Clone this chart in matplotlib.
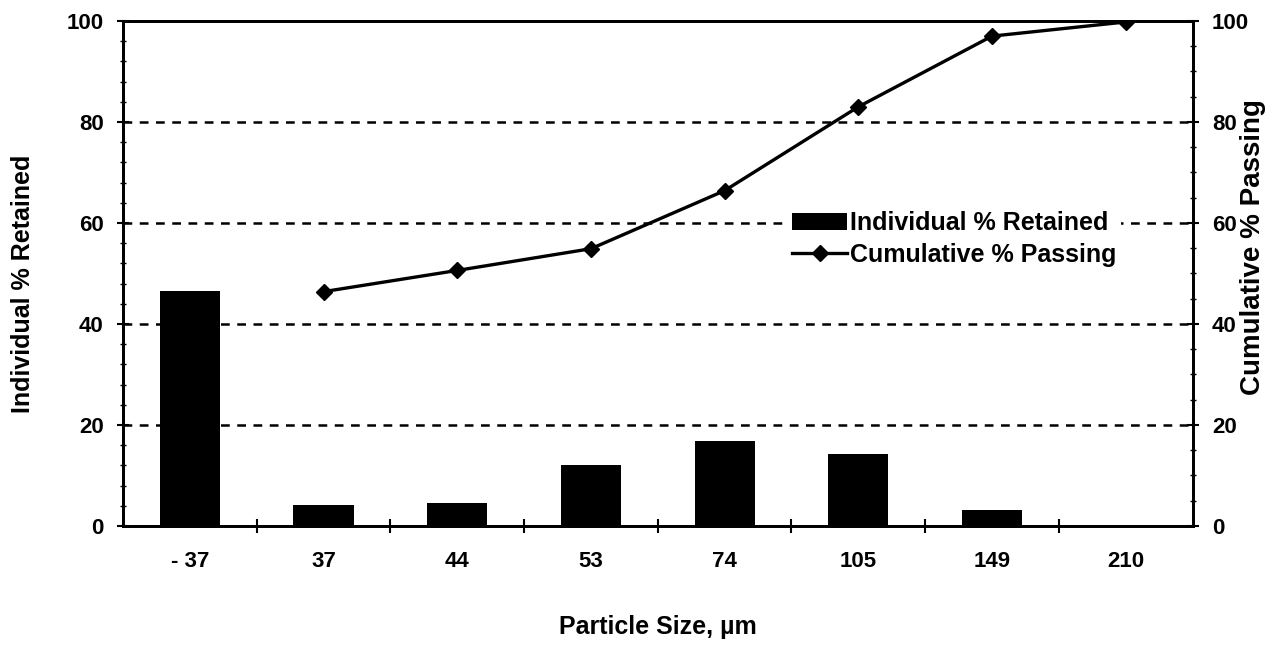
import matplotlib.pyplot as plt
from matplotlib.ticker import MultipleLocator

# tamaños de partícula (categorías) y datos
tamanos = ["- 37", "37", "44", "53", "74", "105", "149", "210"]
retenido = [46.5, 4.1, 4.5, 12.1, 16.9, 14.2, 3.2, 0.0]
pasante_tamanos = ["37", "44", "53", "74", "105", "149", "210"]
pasante = [46.4, 50.6, 54.9, 66.4, 83.0, 97.0, 99.8]

plt.rcParams['font.family'] = ['Liberation Sans', 'DejaVu Sans']
plt.rcParams['font.weight'] = 'bold'

fig = plt.figure(figsize=(12.87, 6.55), dpi=100)
ax = fig.add_axes([0.0956, 0.197, 0.831, 0.771])
ax2 = ax.twinx()

x = list(range(len(tamanos)))
x_pas = [tamanos.index(t) for t in pasante_tamanos]

barras = ax.bar(x, retenido, width=0.45, color="black", zorder=3)
linea, = ax2.plot(x_pas, pasante, color="black", lw=2.4, marker='D', ms=8, zorder=4)

ax.set_xlim(-0.5, len(tamanos) - 0.5)
ax.set_ylim(0, 100)
ax2.set_ylim(0, 100)

# lineas de grilla punteadas
for v in [20, 40, 60, 80]:
    ax.axhline(v, color="black", lw=1.8, ls=(0, (3.5, 3)), zorder=1)

ax.set_xticks(x)
ax.set_xticklabels(tamanos)
ax.tick_params(axis='x', length=0, pad=18, labelsize=16)
# marcas de x entre categorias
ax.set_xticks([i + 0.5 for i in x[:-1]], minor=True)
ax.tick_params(axis='x', which='minor', length=10, direction='inout', width=1.5)

ax.yaxis.set_major_locator(MultipleLocator(20))
ax.yaxis.set_minor_locator(MultipleLocator(4))
ax.tick_params(axis='y', which='major', length=8, direction='inout', width=1.5, labelsize=16, pad=10)
ax.tick_params(axis='y', which='minor', length=4, direction='inout', width=1)

ax2.yaxis.set_major_locator(MultipleLocator(20))
ax2.yaxis.set_minor_locator(MultipleLocator(5))
ax2.tick_params(axis='y', which='major', length=8, direction='inout', width=1.5, labelsize=16, pad=10)
ax2.tick_params(axis='y', which='minor', length=4, direction='inout', width=1)

for a in (ax, ax2):
    for s in a.spines.values():
        s.set_linewidth(2)

ax.set_xlabel("Particle Size, µm", fontsize=18, fontweight='bold')
ax.xaxis.set_label_coords(0.5, -0.176)
ax.set_ylabel("Individual % Retained", fontsize=18, fontweight='bold')
ax.yaxis.set_label_coords(-0.082, 0.479)
ax2.set_ylabel("Cumulative % Passing", fontsize=20, fontweight='bold')
ax2.yaxis.set_label_coords(1.044, 0.552)

ley = ax.legend([barras, linea], ["Individual % Retained", "Cumulative % Passing"],
                loc='center left', bbox_to_anchor=(0.621, 0.568), borderaxespad=0,
                frameon=True, fancybox=False, borderpad=0.2, fontsize=18,
                handlelength=2.2, handletextpad=0.1, labelspacing=0.3)
ley.get_frame().set_facecolor("white")
ley.get_frame().set_edgecolor("none")
ley.get_frame().set_alpha(1)
ley.set_zorder(5)

fig.savefig("out.png", dpi=100)
